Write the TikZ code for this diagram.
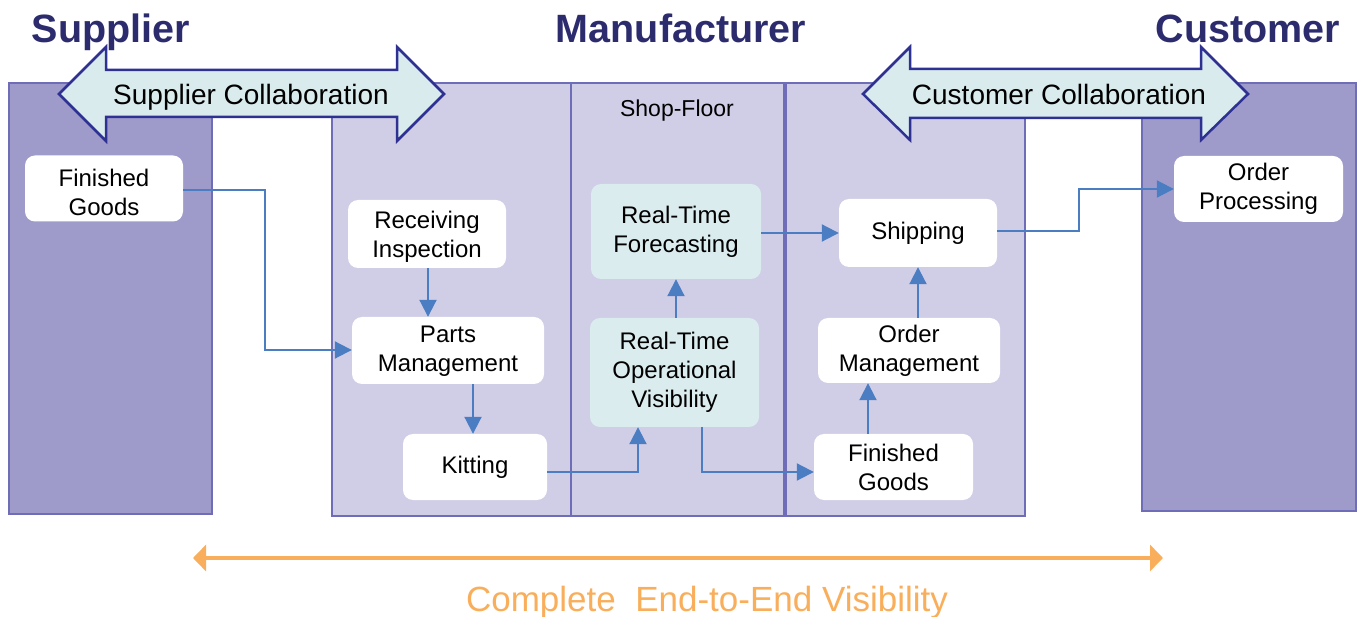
\documentclass[tikz,border=0pt]{standalone}
\usepackage{fontspec}
\setmainfont{Liberation Sans}
\usetikzlibrary{arrows.meta}
\definecolor{panelDark}{RGB}{158,155,203}
\definecolor{panelLight}{RGB}{208,205,230}
\definecolor{panelLine}{RGB}{111,109,183}
\definecolor{collabFill}{RGB}{218,235,238}
\definecolor{collabLine}{RGB}{46,49,146}
\definecolor{titleCol}{RGB}{43,43,110}
\definecolor{flowBlue}{RGB}{74,125,193}
\definecolor{cyanBox}{RGB}{219,236,239}
\definecolor{visOrange}{RGB}{249,174,91}
% stacked lines, drawn the given amount lower than the box centre
\newcommand\lowlines[2][6.5pt]{\raisebox{-#1}[\height][\depth]{\begin{tabular}{@{}c@{}}#2\end{tabular}}}
\begin{document}
\begin{tikzpicture}[x=1pt,y=-1pt,
  panel/.style={draw=panelLine,line width=2.5pt},
  collab/.style={draw=collabLine,fill=collabFill,line width=2.5pt,line join=miter},
  title/.style={text=titleCol,font=\fontsize{39.5}{44}\selectfont\bfseries,anchor=base},
  collabtext/.style={font=\fontsize{28}{32}\selectfont,text height=20pt,text depth=6pt},
  box/.style={fill=white,rounded corners=10pt,inner sep=0pt,align=center,
    font=\fontsize{24}{29}\selectfont},
  cbox/.style={box,fill=cyanBox},
  flow/.style={draw=flowBlue,line width=2pt,-{Triangle[length=17pt,width=17pt]}},
  wide/.style={draw=visOrange,line width=4pt,{Triangle[length=13pt,width=26pt]}-{Triangle[length=13pt,width=26pt]}}
]
\useasboundingbox (0,0) rectangle (1358,617);

% panels
\draw[panel,fill=panelDark] (9,83) rectangle (212,514);
\draw[panel,fill=panelLight] (332,83) rectangle (1025,516);
\draw[panel] (571,83) -- (571,516);
\draw[panel,line width=3.5pt] (785,83) -- (785,516);
\draw[panel,fill=panelDark] (1142,83) rectangle (1356,511);

% collaboration arrows
\draw[collab] (59,94) -- (106,47) -- (106,70) -- (397,70) -- (397,47) -- (444,94)
  -- (397,141) -- (397,117) -- (106,117) -- (106,141) -- cycle;
\node[collabtext] (supcol) at (251,98) {Supplier Collaboration};
\draw[collab] (863,94) -- (910,47) -- (910,69) -- (1201,69) -- (1201,47) -- (1248,94)
  -- (1201,140) -- (1201,118) -- (910,118) -- (910,140) -- cycle;
\node[collabtext] (cuscol) at (1059,98) {Customer Collaboration};

% titles
\node[title] (tsup) at (111,43) {Supplier};
\node[title] (tman) at (681,43) {Manufacturer};
\node[title] (tcus) at (1248,43) {Customer};
\node[font=\fontsize{23}{27}\selectfont,anchor=base] (shop) at (677,117) {Shop-Floor};

% process boxes
\node[box,minimum width=158pt,minimum height=66pt] (sfg) at (104,188.5) {\lowlines{Finished\\Goods}};
\node[box,minimum width=158pt,minimum height=68pt] (recv) at (427,234) {\lowlines[3pt]{Receiving\\Inspection}};
\node[box,minimum width=192pt,minimum height=67pt] (parts) at (448,350.5) {\lowlines[1pt]{Parts\\Management}};
\node[box,minimum width=144pt,minimum height=66pt] (kit) at (475,467) {Kitting};
\node[cbox,minimum width=170pt,minimum height=95pt] (rtf) at (676,231.5) {Real-Time\\Forecasting};
\node[cbox,minimum width=169pt,minimum height=109pt] (rtov) at (674.5,372.5) {Real-Time\\Operational\\Visibility};
\node[box,minimum width=158pt,minimum height=68pt] (ship) at (918,233) {Shipping};
\node[box,minimum width=182pt,minimum height=65pt] (om) at (909,350.5) {Order\\Management};
\node[box,minimum width=159pt,minimum height=66pt] (mfg) at (893.5,467) {Finished\\Goods};
\node[box,minimum width=169pt,minimum height=66pt] (op) at (1258.5,189) {Order\\Processing};

% connectors
\draw[flow] (sfg.east |- 0,190) -| (265,350) -- (parts.west |- 0,350);
\draw[flow] (recv.south -| 428,0) -- (parts.north -| 428,0);
\draw[flow] (parts.south -| 473,0) -- (kit.north -| 473,0);
\draw[flow] (kit.east |- 0,472) -| (rtov.south -| 638,0);
\draw[flow] (rtov.north -| 676,0) -- (rtf.south -| 676,0);
\draw[flow] (rtov.south -| 702,0) |- (mfg.west |- 0,472);
\draw[flow] (rtf.east |- 0,233) -- (ship.west |- 0,233);
\draw[flow] (mfg.north -| 868,0) -- (om.south -| 868,0);
\draw[flow] (om.north -| 918,0) -- (ship.south -| 918,0);
\draw[flow] (ship.east |- 0,231) -| (1079,189) -- (op.west |- 0,189);

% end-to-end visibility
\coordinate (vl) at (193,558);
\coordinate (vr) at (1163,558);
\draw[wide] (vl) -- (vr);
\node[text=visOrange,font=\fontsize{35}{40}\selectfont,anchor=base] (vis) at (707,611) {Complete\ \ End-to-End Visibility};
\end{tikzpicture}
\end{document}
